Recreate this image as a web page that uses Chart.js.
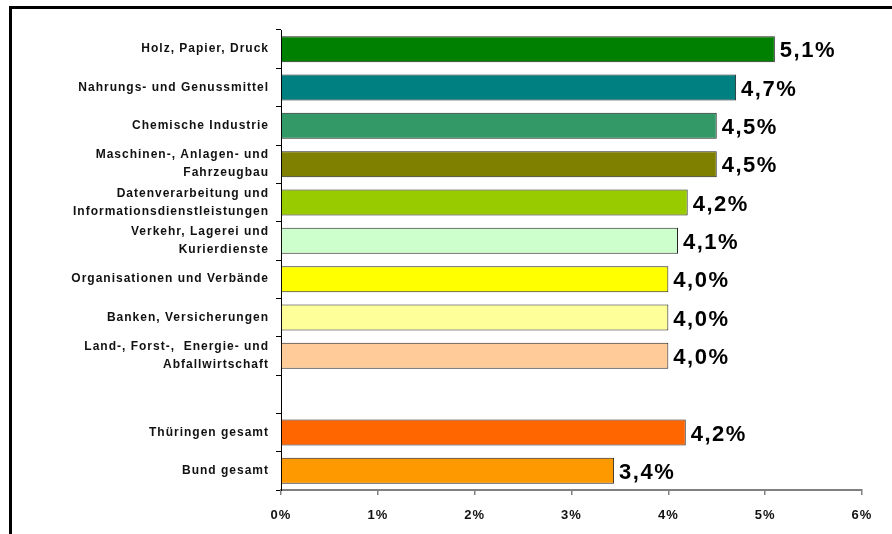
<!DOCTYPE html>
<html lang="de">
<head>
<meta charset="UTF-8">
<title>Branchen</title>
<script src="https://cdn.jsdelivr.net/npm/chart.js@4.4.0/dist/chart.umd.min.js"></script>
<style>
    body { margin: 0; background: #fff; overflow: hidden; }
    .frame { position: absolute; left: 9px; top: 6px; width: 920px; height: 560px; border: 3px solid #000; }
    .wrap { position: absolute; left: 0; top: 0; width: 892px; height: 534px; }
</style>
</head>
<body>
<div class="frame"></div>
<div class="wrap"><canvas id="chart" width="892" height="534"></canvas></div>
<script>
// categories (top to bottom), '' is the empty gap row
const categories = [
    'Holz, Papier, Druck',
    'Nahrungs- und Genussmittel',
    'Chemische Industrie',
    ['Maschinen-, Anlagen- und', 'Fahrzeugbau'],
    ['Datenverarbeitung und', 'Informationsdienstleistungen'],
    ['Verkehr, Lagerei und', 'Kurierdienste'],
    'Organisationen und Verbände',
    'Banken, Versicherungen',
    ['Land-, Forst-,  Energie- und', 'Abfallwirtschaft'],
    '',
    'Thüringen gesamt',
    'Bund gesamt'
];
const values = [5.1, 4.7, 4.5, 4.5, 4.2, 4.1, 4.0, 4.0, 4.0, null, 4.18, 3.44];
const valueLabels = ['5,1%', '4,7%', '4,5%', '4,5%', '4,2%', '4,1%', '4,0%', '4,0%', '4,0%', '', '4,2%', '3,4%'];
const barColors = ['#008000', '#008080', '#339966', '#808000', '#99CC00', '#CCFFCC',
                   '#FFFF00', '#FFFF99', '#FFCC99', '#ffffff', '#FF6600', '#FF9900'];
const xTicks = [0, 1, 2, 3, 4, 5, 6];

const FONT = '"Liberation Sans", Arial, sans-serif';

// wider letter spacing like the original export
const spacing = {
    id: 'spacing',
    beforeDraw(chart) { chart.ctx.letterSpacing = '1px'; }
};

// value text right of each bar
const valueText = {
    id: 'valueText',
    afterDatasetsDraw(chart) {
        const ctx = chart.ctx;
        const meta = chart.getDatasetMeta(0);
        ctx.save();
        ctx.font = 'bold 22px ' + FONT;
        ctx.letterSpacing = '1.5px';
        ctx.fillStyle = '#000';
        ctx.textBaseline = 'middle';
        meta.data.forEach((bar, i) => {
            if (values[i] == null) return;
            ctx.fillText(valueLabels[i], bar.x + 5, bar.y + 2);
        });
        ctx.restore();
    }
};

new Chart(document.getElementById('chart'), {
    type: 'bar',
    data: {
        labels: categories,
        datasets: [{
            data: values,
            backgroundColor: barColors,
            borderColor: '#222',
            borderWidth: 1,
            categoryPercentage: 1,
            barPercentage: 0.68
        }]
    },
    options: {
        indexAxis: 'y',
        responsive: false,
        animation: false,
        layout: { padding: { top: 30, right: 30, left: 0, bottom: 0 } },
        plugins: { legend: { display: false }, tooltip: { enabled: false } },
        scales: {
            x: {
                min: 0, max: 6,
                afterBuildTicks(scale) { scale.ticks = xTicks.map(v => ({ value: v })); },
                afterFit(scale) { scale.height = 534 - 490; },
                border: { color: '#808080', width: 2 },
                grid: { drawOnChartArea: false, drawTicks: true, tickLength: 5, color: '#808080', lineWidth: 1.5 },
                ticks: {
                    padding: 13,
                    color: '#111',
                    font: { family: FONT, size: 13, weight: 'bold' },
                    callback: v => v + '%'
                }
            },
            y: {
                afterFit(scale) { scale.width = 281; },
                border: { color: '#000', width: 1 },
                grid: { offset: true, drawOnChartArea: false, drawTicks: true, tickLength: 5, color: '#000' },
                ticks: {
                    padding: 7,
                    color: '#111',
                    autoSkip: false,
                    font: { family: FONT, size: 12, weight: 'bold', lineHeight: 1.5 }
                }
            }
        }
    },
    plugins: [spacing, valueText]
});
</script>
</body>
</html>
